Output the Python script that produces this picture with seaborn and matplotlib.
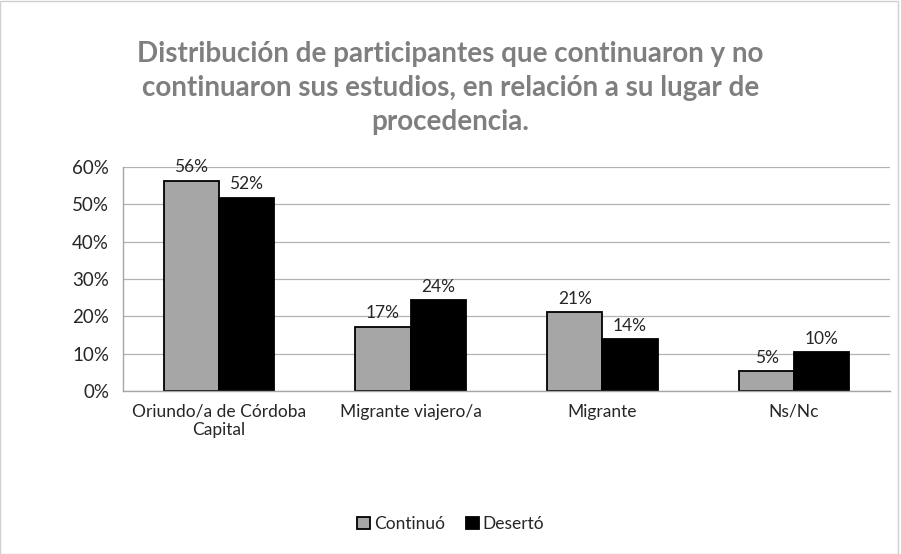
import pandas as pd
import matplotlib.pyplot as plt
import seaborn as sns
from matplotlib.patches import Rectangle

# Data
categorias = ["Oriundo/a de Córdoba\nCapital", "Migrante viajero/a", "Migrante", "Ns/Nc"]
continuo = [0.563, 0.172, 0.211, 0.053]
deserto = [0.518, 0.243, 0.139, 0.104]
series = ["Continuó", "Desertó"]
yticks = [0, 0.1, 0.2, 0.3, 0.4, 0.5, 0.6]

df = pd.DataFrame({
    "Lugar": categorias * 2,
    "Valor": continuo + deserto,
    "Serie": [series[0]] * len(categorias) + [series[1]] * len(categorias),
})

sns.set_theme(style="white")
plt.rcParams["font.family"] = ["Lato", "DejaVu Sans"]

fig = plt.figure(figsize=(9.01, 5.54), dpi=100)
ax = fig.add_axes([123 / 901, 1 - 391 / 554, (890 - 123) / 901, (391 - 167) / 554])

sns.barplot(data=df, x="Lugar", y="Valor", hue="Serie", order=categorias,
            hue_order=series, palette=["#a6a6a6", "#000000"], width=0.575,
            edgecolor="black", linewidth=1.3, ax=ax, legend=True)

for cont in ax.containers:
    ax.bar_label(cont, labels=[f"{v * 100:.0f}%" for v in cont.datavalues],
                 padding=4, fontsize=12.5, color="#262626")

ax.set_ylim(0, 0.6)
ax.set_yticks(yticks)
ax.set_yticklabels([f"{int(round(t * 100))}%" for t in yticks], fontsize=13.5, color="#262626")
ax.tick_params(axis="x", labelsize=12.5, colors="#262626", length=0, pad=9)
ax.tick_params(axis="y", length=0, pad=10)
ax.set_xlabel("")
ax.set_ylabel("")
ax.yaxis.grid(True, color="#b3b3b3", linewidth=0.9)
ax.set_axisbelow(True)
for s in ["top", "right"]:
    ax.spines[s].set_visible(False)
for s in ["left", "bottom"]:
    ax.spines[s].set_color("#a6a6a6")
    ax.spines[s].set_linewidth(1.0)

handles, labels = ax.get_legend_handles_labels()
ax.get_legend().remove()
fig.legend(handles, labels, loc="center", bbox_to_anchor=(0.5, 1 - 524 / 554), ncol=2,
           frameon=False, fontsize=12.5, handlelength=0.75, handleheight=0.75,
           handletextpad=0.2, columnspacing=1.2)

fig.text(0.5, 1 - 88 / 554,
         "Distribución de participantes que continuaron y no\n"
         "continuaron sus estudios, en relación a su lugar de\n"
         "procedencia.",
         ha="center", va="center", fontsize=20, fontweight="bold",
         color="#7f7f7f", linespacing=1.4)

# light outer frame of the chart area
fig.patches.append(Rectangle((0, 0), 0.997, 0.998, transform=fig.transFigure,
                             fill=False, edgecolor="#d0d0d0", linewidth=1.0))

fig.savefig("out.png", dpi=100)
